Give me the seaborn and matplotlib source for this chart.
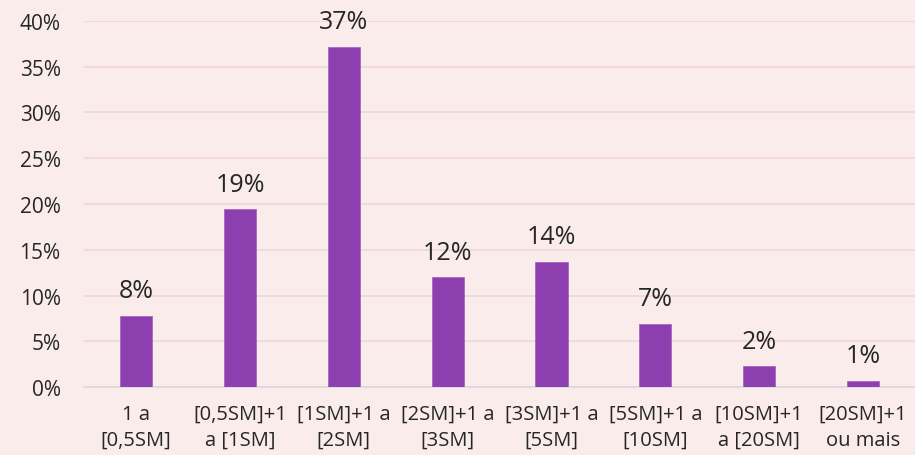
import matplotlib
matplotlib.use("Agg")
import matplotlib.pyplot as plt
import seaborn as sns
import pandas as pd
from matplotlib.ticker import FuncFormatter

# Income brackets (in minimum wages, SM) and share of respondents (%)
categories = [
    "1 a\n[0,5SM]",
    "[0,5SM]+1\na [1SM]",
    "[1SM]+1 a\n[2SM]",
    "[2SM]+1 a\n[3SM]",
    "[3SM]+1 a\n[5SM]",
    "[5SM]+1 a\n[10SM]",
    "[10SM]+1\na [20SM]",
    "[20SM]+1\nou mais",
]
shares = [7.8, 19.4, 37.2, 12.0, 13.7, 6.9, 2.3, 0.7]
y_ticks = [0, 5, 10, 15, 20, 25, 30, 35, 40]

bg = "#F9ECEB"
bar_color = "#8E3FAF"
grid_color = "#F1D5D8"
text_color = "#262626"

sns.set_theme(style="white")
plt.rcParams["font.family"] = ["Open Sans", "DejaVu Sans"]

df = pd.DataFrame({"faixa": categories, "pct": shares})

fig = plt.figure(figsize=(9.15, 4.56), dpi=100, facecolor=bg)
ax = fig.add_axes([0.092, 0.149, 0.908, 0.803])
ax.set_facecolor(bg)

sns.barplot(data=df, x="faixa", y="pct", color=bar_color, saturation=1,
            width=0.31, ax=ax, zorder=3, edgecolor="#A866C4", linewidth=0.6)

ax.set_ylim(0, 40)
ax.set_xlim(-0.5, len(categories) - 0.5)
ax.set_yticks(y_ticks)
ax.yaxis.set_major_formatter(FuncFormatter(lambda v, _: f"{v:.0f}%"))
ax.grid(axis="y", color=grid_color, linewidth=1.2, zorder=0)
ax.set_xlabel("")
ax.set_ylabel("")

for s in ["top", "right", "left"]:
    ax.spines[s].set_visible(False)
ax.spines["bottom"].set_color("#D9D9D9")
ax.spines["bottom"].set_linewidth(1.2)

ax.tick_params(axis="y", length=0, labelsize=15, labelcolor=text_color, pad=17)
ax.tick_params(axis="x", length=0, labelsize=14.5, labelcolor=text_color, pad=12)
for lbl in ax.get_xticklabels():
    lbl.set_linespacing(1.4)

for i, v in enumerate(shares):
    ax.annotate(f"{v:.0f}%", (i, v), xytext=(0, 9), textcoords="offset points",
                ha="center", va="bottom", fontsize=18, color=text_color,
                annotation_clip=False)

fig.savefig("out.png", dpi=100, facecolor=bg)
